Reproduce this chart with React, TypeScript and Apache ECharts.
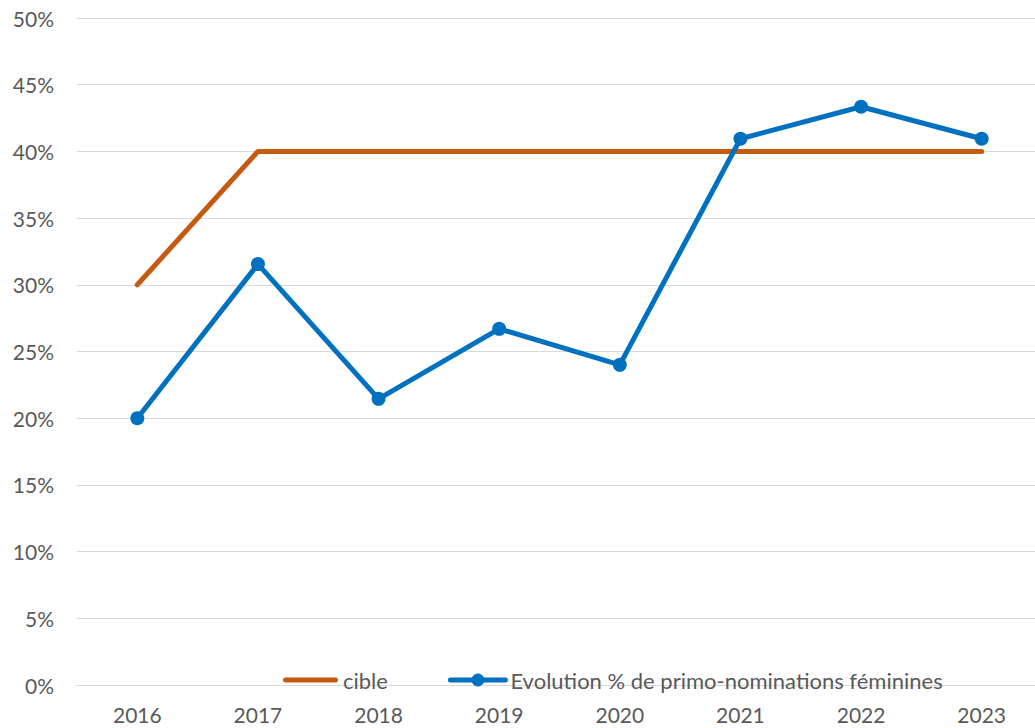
import React, { useEffect, useRef } from "react";
import * as echarts from "echarts";

const years = ["2016", "2017", "2018", "2019", "2020", "2021", "2022", "2023"];
const cible = [30, 40, 40, 40, 40, 40, 40, 40];
const evolution = [20.0, 31.55, 21.45, 26.7, 24.0, 40.95, 43.35, 40.95];
const yTicks = { min: 0, max: 50, interval: 5 };

const FONT = "Lato, 'Open Sans', sans-serif";
const GRAY = "#595959";
const ORANGE = "#C55A11";
const BLUE = "#0070C0";

export default function App() {
  const ref = useRef<HTMLDivElement>(null);
  useEffect(() => {
    if (!ref.current) return;
    const chart = echarts.init(ref.current, null, { renderer: "svg" });
    chart.setOption({
      animation: false,
      backgroundColor: "#ffffff",
      grid: { left: 77, top: 18, width: 965, height: 667, containLabel: false },
      legend: {
        left: 278,
        top: 664,
        itemWidth: 55,
        itemHeight: 16,
        itemGap: 60,
        textStyle: { color: GRAY, fontSize: 22, fontFamily: FONT },
        data: [
          {
            name: "cible",
            icon: "path://M2.5,0 L52.5,0 A2.5,2.5 0 0 1 52.5,5 L2.5,5 A2.5,2.5 0 0 1 2.5,0 Z",
            itemStyle: { color: ORANGE },
          },
          {
            name: "Evolution % de primo-nominations féminines",
            lineStyle: { width: 5, color: BLUE },
          },
        ],
      },
      xAxis: {
        type: "category",
        data: years,
        boundaryGap: true,
        axisLine: { show: true, lineStyle: { color: "#D9D9D9", width: 1 } },
        axisTick: { show: false },
        axisLabel: { color: GRAY, fontSize: 21, fontFamily: FONT, margin: 19 },
        z: 0,
      },
      yAxis: {
        type: "value",
        min: yTicks.min,
        max: yTicks.max,
        interval: yTicks.interval,
        axisLine: { show: false },
        axisTick: { show: false },
        splitLine: { lineStyle: { color: "#D9D9D9", width: 1 } },
        axisLabel: {
          color: GRAY,
          fontSize: 21,
          fontFamily: FONT,
          margin: 23,
          formatter: (v: number) => v + "%",
        },
      },
      series: [
        {
          name: "cible",
          type: "line",
          data: cible,
          showSymbol: false,
          symbol: "none",
          lineStyle: { color: ORANGE, width: 5, cap: "round" },
          itemStyle: { color: ORANGE },
          z: 2,
        },
        {
          name: "Evolution % de primo-nominations féminines",
          type: "line",
          data: evolution,
          symbol: "circle",
          symbolSize: 14,
          lineStyle: { color: BLUE, width: 5, cap: "round" },
          itemStyle: { color: BLUE },
          z: 3,
        },
      ],
    });
    return () => chart.dispose();
  }, []);
  return (
    <div
      ref={ref}
      style={{ position: "fixed", left: 0, top: 0, width: 1045, height: 728 }}
    />
  );
}
